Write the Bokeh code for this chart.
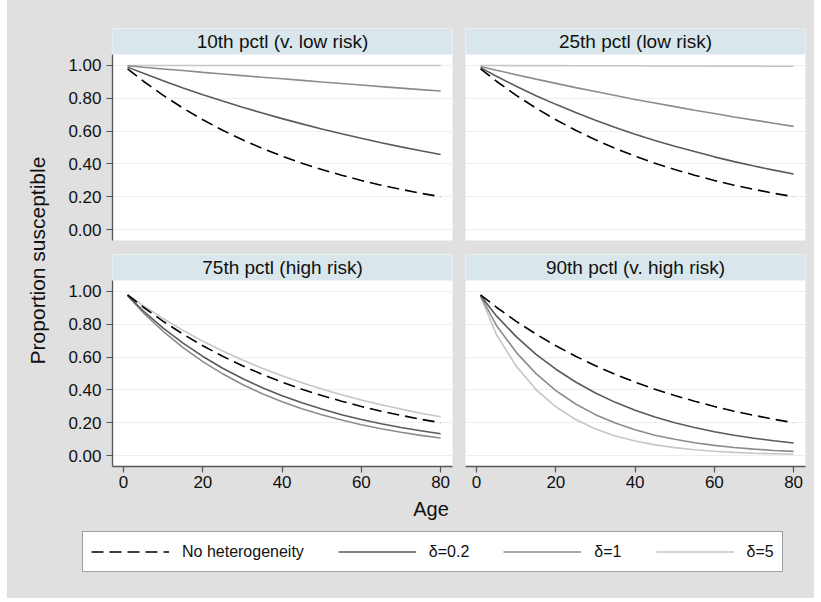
import math
from bokeh.plotting import figure
from bokeh.models import (Range1d, FixedTicker, NumeralTickFormatter, BoxAnnotation,
                          Label, Legend, LegendItem, Spacer)
from bokeh.layouts import row, column
from bokeh.embed import file_html
from bokeh.resources import INLINE

# ---------------- data ----------------
ages = [1, 5, 10, 15, 20, 25, 30, 35, 40, 45, 50, 55, 60, 65, 70, 75, 80]

no_het = [0.980, 0.904, 0.818, 0.740, 0.669, 0.605, 0.547, 0.495, 0.447,
          0.404, 0.366, 0.331, 0.299, 0.270, 0.245, 0.221, 0.200]

p10_d02 = [0.990, 0.952, 0.907, 0.863, 0.822, 0.783, 0.746, 0.710, 0.676,
           0.644, 0.613, 0.584, 0.556, 0.529, 0.504, 0.480, 0.457]
p10_d1 = [0.998, 0.989, 0.979, 0.969, 0.958, 0.948, 0.938, 0.928, 0.919,
          0.909, 0.899, 0.890, 0.881, 0.871, 0.862, 0.853, 0.844]
p10_d5 = [1.000, 1.000, 1.000, 1.000, 1.000, 1.000, 1.000, 1.000, 1.000,
          1.000, 1.000, 1.000, 1.000, 1.000, 1.000, 1.000, 1.000]

p25_d02 = [0.987, 0.934, 0.873, 0.816, 0.763, 0.713, 0.666, 0.622, 0.581,
           0.543, 0.508, 0.475, 0.443, 0.414, 0.387, 0.362, 0.338]
p25_d1 = [0.994, 0.971, 0.944, 0.917, 0.891, 0.865, 0.841, 0.817, 0.793,
          0.771, 0.749, 0.727, 0.707, 0.686, 0.667, 0.648, 0.629]
p25_d5 = [1.000, 1.000, 0.999, 0.999, 0.999, 0.998, 0.998, 0.998, 0.998,
          0.997, 0.997, 0.997, 0.996, 0.996, 0.996, 0.995, 0.995]

p75_d02 = [0.976, 0.881, 0.777, 0.685, 0.604, 0.532, 0.469, 0.413, 0.364,
           0.321, 0.283, 0.249, 0.220, 0.194, 0.171, 0.151, 0.133]
p75_d1 = [0.975, 0.870, 0.757, 0.658, 0.572, 0.498, 0.433, 0.377, 0.328,
          0.285, 0.248, 0.216, 0.188, 0.163, 0.142, 0.123, 0.107]
p75_d5 = [0.980, 0.914, 0.835, 0.763, 0.697, 0.637, 0.582, 0.532, 0.486,
          0.444, 0.406, 0.371, 0.339, 0.309, 0.283, 0.258, 0.236]

p90_d02 = [0.975, 0.851, 0.725, 0.617, 0.526, 0.448, 0.381, 0.324, 0.276,
           0.235, 0.200, 0.171, 0.145, 0.124, 0.105, 0.090, 0.076]
p90_d1 = [0.973, 0.793, 0.629, 0.499, 0.396, 0.314, 0.249, 0.198, 0.157,
          0.124, 0.099, 0.078, 0.062, 0.049, 0.039, 0.031, 0.025]
p90_d5 = [0.970, 0.738, 0.545, 0.402, 0.297, 0.219, 0.162, 0.119, 0.088,
          0.065, 0.048, 0.035, 0.026, 0.019, 0.014, 0.011, 0.008]

panel_titles = ["10th pctl (v. low risk)", "25th pctl (low risk)",
                "75th pctl (high risk)", "90th pctl (v. high risk)"]
series_labels = ["No heterogeneity", "δ=0.2", "δ=1", "δ=5"]
y_ticks = [0.0, 0.2, 0.4, 0.6, 0.8, 1.0]
x_ticks = [0, 20, 40, 60, 80]

# ---------------- styling ----------------
FONT = "Liberation Sans"
BG = "#e0e0e0"
HEADER = "#d9e6eb"
GRID = "#e8f0f2"
AXIS = "#555555"
TEXT = "#111111"
COL_NH = "#000000"
COL_D02 = "#5a5a5a"
COL_D1 = "#8c8c8c"
COL_D5 = "#c6c6c6"
LW = 1.6
DASH = "12 6"

X0, X1 = -2.8, 83.0
Y0, Y1 = -0.067, 1.067
YH = 1.2255  # top of header strip


def style_axis(ax):
    ax.axis_line_color = AXIS
    ax.axis_line_width = 1.3
    ax.major_tick_line_color = AXIS
    ax.major_tick_line_width = 1.2
    ax.major_tick_out = 6
    ax.major_tick_in = 0
    ax.minor_tick_line_color = None
    ax.major_label_text_font = FONT
    ax.major_label_text_font_size = "17px"
    ax.major_label_text_color = TEXT


def panel(title, d02, d1, d5, left, bottom):
    w = 406 if left else 356
    h = 249 if bottom else 247
    p = figure(width=w, height=h, output_backend="svg", toolbar_location=None,
               x_range=Range1d(X0, X1), y_range=Range1d(Y0, YH),
               x_axis_location="below" if bottom else None,
               y_axis_location="left" if left else None,
               min_border_left=60 if left else 7,
               min_border_right=6 if left else 9,
               min_border_top=7 if bottom else 28,
               min_border_bottom=30 if bottom else 7)
    p.border_fill_color = BG
    p.background_fill_color = "white"
    p.outline_line_color = None
    p.xgrid.visible = False
    p.ygrid.ticker = FixedTicker(ticks=y_ticks)
    p.ygrid.grid_line_color = GRID
    p.ygrid.grid_line_width = 1.2
    if left:
        p.yaxis.ticker = FixedTicker(ticks=y_ticks)
        p.yaxis.formatter = NumeralTickFormatter(format="0.00")
        p.yaxis.bounds = (Y0, Y1)
        p.yaxis.major_label_standoff = 5
        style_axis(p.yaxis[0])
    if bottom:
        p.xaxis.ticker = FixedTicker(ticks=x_ticks)
        p.xaxis.major_label_standoff = 3
        style_axis(p.xaxis[0])

    p.line(ages, d5, line_color=COL_D5, line_width=LW)
    p.line(ages, d1, line_color=COL_D1, line_width=LW)
    p.line(ages, d02, line_color=COL_D02, line_width=LW)
    p.line(ages, no_het, line_color=COL_NH, line_width=LW, line_dash=DASH)

    p.add_layout(BoxAnnotation(left=X0, right=X1, bottom=Y1, top=YH,
                               fill_color=HEADER, fill_alpha=1.0, line_color=None))
    p.add_layout(Label(x=(X0 + X1) / 2, y=(Y1 + YH) / 2, text=title,
                       text_align="center", text_baseline="middle",
                       text_font=FONT, text_font_size="19px", text_color=TEXT))
    return p


tl = panel(panel_titles[0], p10_d02, p10_d1, p10_d5, True, False)
tr = panel(panel_titles[1], p25_d02, p25_d1, p25_d5, False, False)
bl = panel(panel_titles[2], p75_d02, p75_d1, p75_d5, True, True)
br = panel(panel_titles[3], p90_d02, p90_d1, p90_d5, False, True)


def blank(w, h):
    f = figure(width=w, height=h, output_backend="svg", toolbar_location=None,
               x_range=Range1d(0, w), y_range=Range1d(0, h),
               x_axis_location=None, y_axis_location=None,
               min_border_left=0, min_border_right=0,
               min_border_top=0, min_border_bottom=0)
    f.border_fill_color = BG
    f.background_fill_color = BG
    f.outline_line_color = None
    f.xgrid.visible = False
    f.ygrid.visible = False
    return f


ylab = blank(45, 496)
ylab.add_layout(Label(x=30, y=236, text="Proportion susceptible", angle=math.pi / 2,
                      text_align="center", text_baseline="middle",
                      text_font=FONT, text_font_size="21px", text_color=TEXT))

bot = blank(807, 102)
bot.add_layout(Label(x=423.5, y=90, text="Age", text_align="center",
                     text_baseline="middle", text_font=FONT,
                     text_font_size="20px", text_color=TEXT))
# legend renderers: real series drawn on an off-screen range so only the key shows
bot.extra_x_ranges = {"key_x": Range1d(0, 80)}
bot.extra_y_ranges = {"key_y": Range1d(5, 6)}
kw = dict(x_range_name="key_x", y_range_name="key_y")
r_nh = bot.line(ages, no_het, line_color=COL_NH, line_width=LW, line_dash=DASH, **kw)
r_02 = bot.line(ages, p10_d02, line_color=COL_D02, line_width=LW, **kw)
r_1 = bot.line(ages, p10_d1, line_color=COL_D1, line_width=LW, **kw)
r_5 = bot.line(ages, p10_d5, line_color=COL_D5, line_width=LW, **kw)
legend = Legend(items=[LegendItem(label=series_labels[0], renderers=[r_nh]),
                       LegendItem(label=series_labels[1], renderers=[r_02]),
                       LegendItem(label=series_labels[2], renderers=[r_1]),
                       LegendItem(label=series_labels[3], renderers=[r_5])],
                orientation="horizontal", location=(75, 26),
                glyph_width=78, glyph_height=23, label_height=23,
                label_standoff=13, spacing=34, padding=8, margin=0,
                border_line_color="#404040", border_line_width=1.5,
                background_fill_color="white", background_fill_alpha=1.0,
                label_text_font=FONT, label_text_font_size="16px",
                label_text_color=TEXT)
bot.add_layout(legend)

WHITE = {"background-color": "white"}
grid = column(row(tl, tr, spacing=0), row(bl, br, spacing=0), spacing=0,
              styles={"background-color": BG})
top = row(Spacer(width=7, height=496, styles=WHITE), ylab, grid, spacing=0,
          styles={"background-color": BG})
bottom = row(Spacer(width=7, height=102, styles=WHITE), bot, spacing=0,
             styles={"background-color": BG})
layout = column(top, bottom, spacing=0, styles={"background-color": BG})

open("out.html", "w").write(file_html(layout, INLINE))
